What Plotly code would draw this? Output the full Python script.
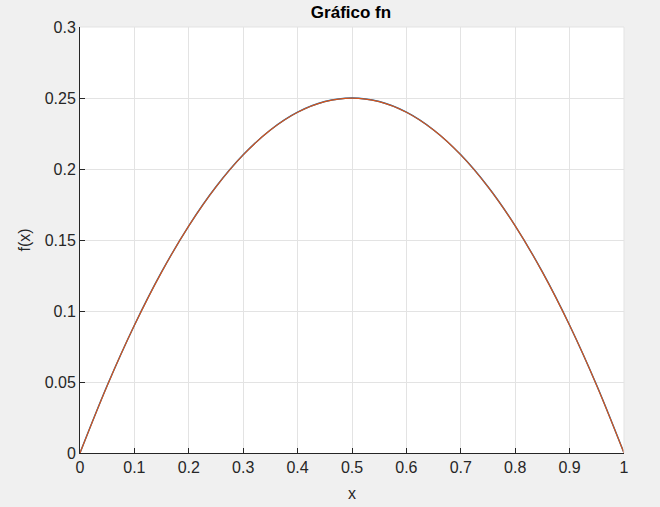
import plotly.graph_objects as go

# Values
x_vals = [0.0, 0.05, 0.1, 0.15, 0.2, 0.25, 0.3, 0.35, 0.4, 0.45, 0.5,
          0.55, 0.6, 0.65, 0.7, 0.75, 0.8, 0.85, 0.9, 0.95, 1.0]
f_exact = [0.0, 0.0475, 0.09, 0.1275, 0.16, 0.1875, 0.21, 0.2275, 0.24, 0.2475, 0.25,
           0.2475, 0.24, 0.2275, 0.21, 0.1875, 0.16, 0.1275, 0.09, 0.0475, 0.0]
f_n = [0.0, 0.0474, 0.0899, 0.1274, 0.1599, 0.1874, 0.2099, 0.2274, 0.2399, 0.2474, 0.2499,
       0.2474, 0.2399, 0.2274, 0.2099, 0.1874, 0.1599, 0.1274, 0.0899, 0.0474, 0.0]

x_ticks = [0, 0.1, 0.2, 0.3, 0.4, 0.5, 0.6, 0.7, 0.8, 0.9, 1]
x_tick_text = ["0", "0.1", "0.2", "0.3", "0.4", "0.5", "0.6", "0.7", "0.8", "0.9", "1"]
y_ticks = [0, 0.05, 0.1, 0.15, 0.2, 0.25, 0.3]
y_tick_text = ["0", "0.05", "0.1", "0.15", "0.2", "0.25", "0.3"]

fig = go.Figure()
fig.add_trace(go.Scatter(x=x_vals, y=f_exact, mode="lines",
                         line=dict(color="#0072BD", width=1.4, shape="spline"),
                         showlegend=False))
fig.add_trace(go.Scatter(x=x_vals, y=f_n, mode="lines",
                         line=dict(color="#D95319", width=1.2, shape="spline"),
                         showlegend=False))

font = "Liberation Sans, Arial, sans-serif"
axis_common = dict(
    showgrid=True, gridcolor="#e3e3e3", gridwidth=1,
    zeroline=False, ticks="inside", ticklen=5, tickcolor="#262626",
    tickfont=dict(family=font, size=16, color="#262626"),
    showline=True, linecolor="#262626", linewidth=1, mirror=False,
    automargin=False,
)
fig.update_xaxes(range=[0, 1], tickvals=x_ticks, ticktext=x_tick_text,
                 title=dict(text="x", font=dict(family=font, size=16, color="#262626"), standoff=12),
                 **axis_common)
fig.update_yaxes(range=[0, 0.3], tickvals=y_ticks, ticktext=y_tick_text,
                 title=dict(text="f(x)", font=dict(family=font, size=16, color="#262626"), standoff=10),
                 **axis_common)

# light frame on the top and right (grid-colored)
fig.add_shape(type="line", xref="paper", yref="paper", x0=0, x1=1, y0=1, y1=1,
              line=dict(color="#e3e3e3", width=1))
fig.add_shape(type="line", xref="paper", yref="paper", x0=1, x1=1, y0=0, y1=1,
              line=dict(color="#e3e3e3", width=1))

fig.update_layout(
    width=660, height=507,
    margin=dict(l=80, r=36, t=27, b=54, autoexpand=False),
    paper_bgcolor="#f0f0f0", plot_bgcolor="#ffffff",
    title=dict(text="<b>Gráfico fn</b>", x=351 / 660, xanchor="center",
               y=1 - 12 / 507, yanchor="middle",
               font=dict(family=font, size=17, color="#000000")),
)

fig.write_html("out.html", config={"displayModeBar": False},
               post_script="document.body.style.margin='0';document.body.style.background='#f0f0f0';")
